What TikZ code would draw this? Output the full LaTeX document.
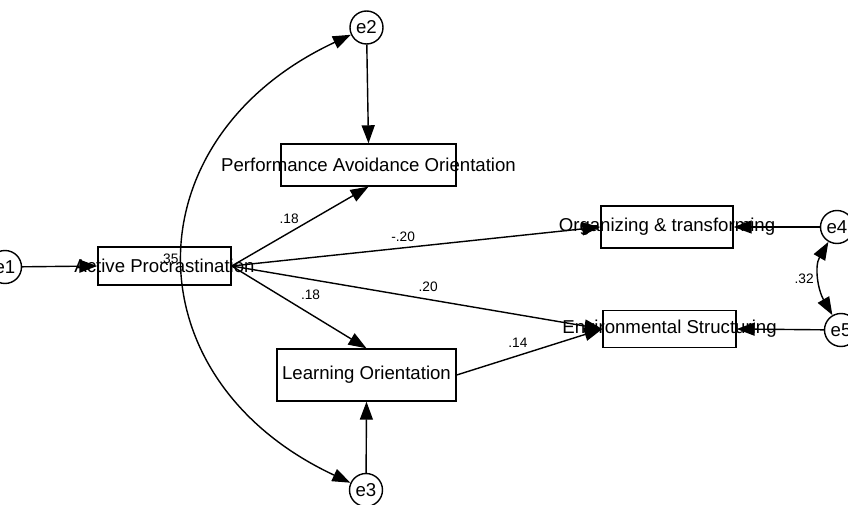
\documentclass[tikz,border=0pt]{standalone}
\usepackage{fontspec}
\setmainfont{Liberation Sans}
\usepackage{tikz}
\usetikzlibrary{arrows.meta,positioning,calc}

\newcommand{\wide}[1]{\makebox[0pt]{#1}}

\begin{document}
\begin{tikzpicture}[>={Triangle[length=3.6mm,width=2.6mm]}, line width=0.8pt]
        \tikzset{obs/.style={rectangle, draw, inner sep=0pt, font=\fontsize{10.6}{12}\selectfont},
                 err/.style={circle, draw, inner sep=0pt, minimum size=0.66cm, font=\fontsize{10.6}{12}\selectfont},
                 coef/.style={inner sep=1pt, font=\fontsize{7.8}{9}\selectfont}}
        \useasboundingbox (0,0) rectangle (16.96,10.1);
        % observed variables
        \node[obs, minimum width=2.66cm, minimum height=0.76cm] (ap) at (3.29,4.78) {\wide{Active Procrastination}};
        \node[obs, minimum width=3.50cm, minimum height=0.84cm] (pao) at (7.37,6.80) {\wide{Performance Avoidance Orientation}};
        \node[obs, minimum width=3.58cm, minimum height=1.04cm] (lo) at (7.33,2.60) {\wide{Learning Orientation}};
        \node[obs, minimum width=2.64cm, minimum height=0.84cm] (ot) at (13.34,5.56) {\wide{Organizing \& transforming}};
        \node[obs, minimum width=2.66cm, minimum height=0.74cm] (es) at (13.39,3.52) {\wide{Environmental Structuring}};
        % error terms
        \node[err] (e1) at (0.10,4.76) {e1};
        \node[err] (e2) at (7.33,9.55) {e2};
        \node[err] (e3) at (7.32,0.30) {e3};
        \node[err] (e4) at (16.74,5.56) {e4};
        \node[err] (e5) at (16.82,3.50) {e5};
        % paths
        \draw[->] (e1) -- (ap.west);
        \draw[->] (e2) -- (pao.north);
        \draw[->] (e3) -- (lo.south);
        \draw[->] (e4) -- (ot.east);
        \draw[->] (e5) -- (es.east);
        \draw[->] (ap.east) -- node[coef, pos=0.42, above=4pt]{.18} (pao.south);
        \draw[->] (ap.east) -- node[coef, pos=0.465, above=2pt]{-.20} (ot.west);
        \draw[->] (ap.east) -- node[coef, pos=0.53, above=3pt]{.20} (es.west);
        \draw[->] (ap.east) -- node[coef, pos=0.585, above=7pt]{.18} (lo.north);
        \draw[->] (lo.east) -- node[coef, pos=0.42, above=3pt]{.14} (es.west);
        % covariances
        \draw[<->] (e3) to[out=155, in=205, looseness=1.4] node[coef, left=2pt]{.35} (e2);
        \draw[<->] (e4.240) to[out=240, in=120] node[coef, left=2pt]{.32} (e5.120);
    \end{tikzpicture}
\end{document}
